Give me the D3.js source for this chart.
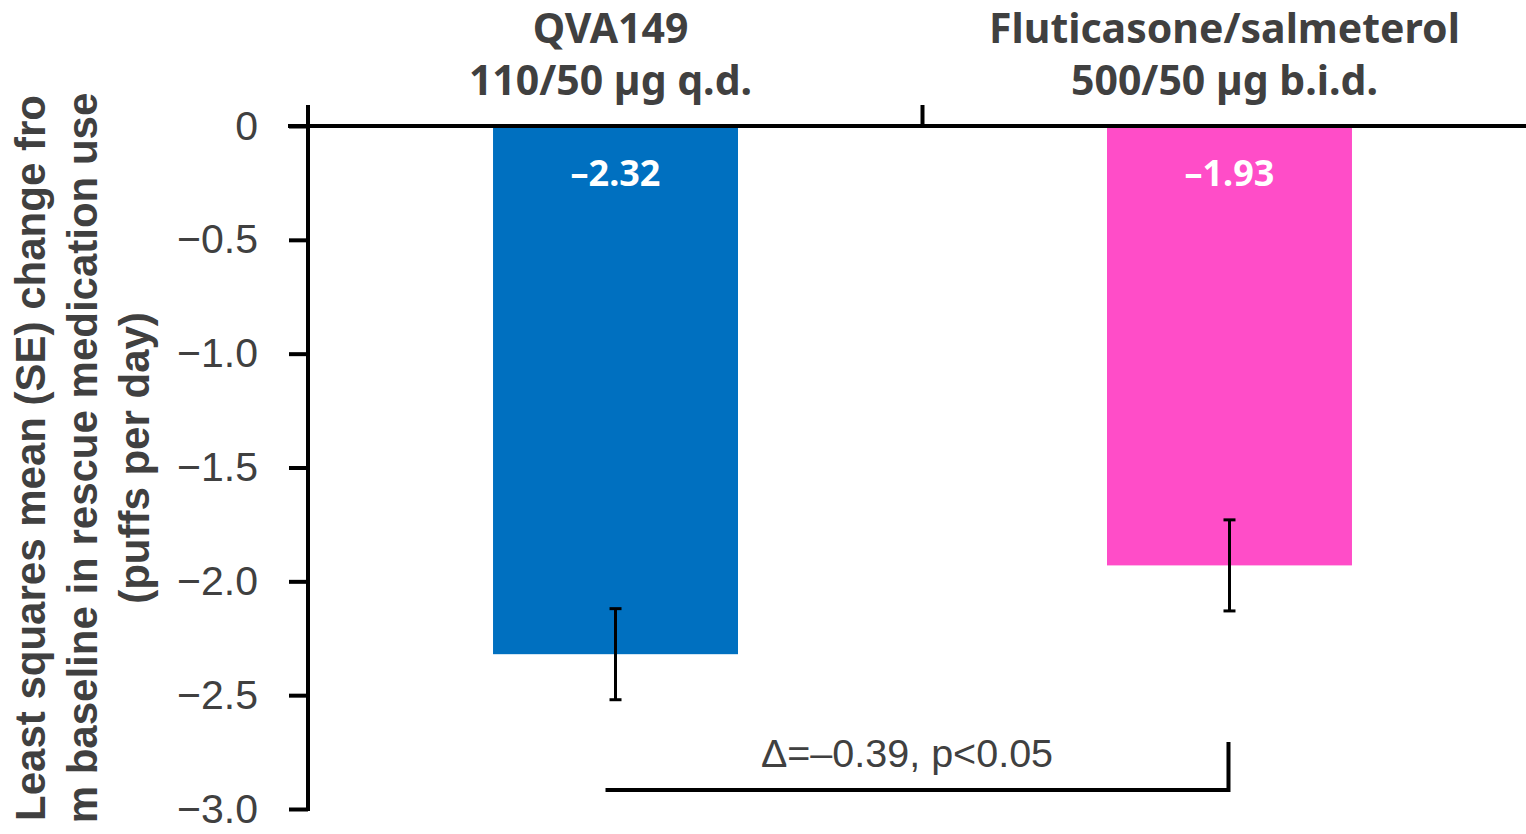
<!DOCTYPE html>
<html>
<head>
<meta charset="utf-8">
<script src="https://cdn.jsdelivr.net/npm/d3@7"></script>
<style>
  html, body { margin: 0; padding: 0; background: #fff; }
  svg { display: block; }
</style>
</head>
<body>
<svg id="chart" width="1526" height="834"></svg>
<script>
// Treatment groups and their least squares mean change in rescue medication use
const categories = ["QVA149", "Fluticasone/salmeterol"];
const doseLabels = ["110/50 µg q.d.", "500/50 µg b.i.d."];
const values = [-2.32, -1.93];
const standardErrors = [0.20, 0.20];
const barColors = ["#0070C0", "#FF4DC8"];
const yTicks = [0, -0.5, -1.0, -1.5, -2.0, -2.5, -3.0];
const yTickLabels = ["0", "\u22120.5", "\u22121.0", "\u22121.5", "\u22122.0", "\u22122.5", "\u22123.0"];
const valueLabels = ["\u20132.32", "\u20131.93"];
const comparisonText = "\u0394=\u20130.39, p<0.05";
const yTitleLines = [
  "Least squares mean (SE) change fro",
  "m baseline in rescue medication use",
  "(puffs per day)"
];

const svg = d3.select("#chart");
const textColor = "#404040";

const plotLeft = 308;
const y = d3.scaleLinear().domain([0, -3]).range([126, 809]);
const x = d3.scaleBand().domain(categories).range([313.5, 1531.5])
  .paddingInner(0.601).paddingOuter(0.2924);
const cx = c => x(c) + x.bandwidth() / 2;

// Bars
svg.append("g").selectAll("rect")
  .data(categories)
  .join("rect")
  .attr("x", d => x(d))
  .attr("y", y(0))
  .attr("width", x.bandwidth())
  .attr("height", (d, i) => y(values[i]) - y(0))
  .attr("fill", (d, i) => barColors[i]);

// Value labels inside the bars
svg.append("g").selectAll("text")
  .data(categories)
  .join("text")
  .attr("x", d => cx(d))
  .attr("y", 186)
  .attr("text-anchor", "middle")
  .attr("fill", "#fff")
  .attr("font-family", "'Noto Sans', sans-serif")
  .attr("font-weight", "bold")
  .attr("font-size", 36)
  .text((d, i) => valueLabels[i]);

// Error bars (± SE)
const eb = svg.append("g").attr("stroke", "#000").attr("stroke-width", 3);
categories.forEach((c, i) => {
  const top = y(values[i] + standardErrors[i]);
  const bot = y(values[i] - standardErrors[i]);
  eb.append("line").attr("x1", cx(c)).attr("x2", cx(c)).attr("y1", top).attr("y2", bot);
  eb.append("line").attr("x1", cx(c) - 6).attr("x2", cx(c) + 6).attr("y1", top).attr("y2", top);
  eb.append("line").attr("x1", cx(c) - 6).attr("x2", cx(c) + 6).attr("y1", bot).attr("y2", bot);
});

// Y axis with ticks pointing left
const yAxis = d3.axisLeft(y).tickValues(yTicks).tickSize(19)
  .tickFormat((d, i) => yTickLabels[i]).tickPadding(31);
const yg = svg.append("g").attr("transform", `translate(${plotLeft},0)`).call(yAxis);
yg.select(".domain").remove();
yg.selectAll(".tick line").attr("stroke", "#000").attr("stroke-width", 4);
yg.selectAll(".tick text")
  .attr("fill", textColor)
  .attr("font-family", "'Liberation Sans Narrow', 'Liberation Sans', sans-serif")
  .attr("font-size", 41);
svg.append("line")
  .attr("x1", plotLeft).attr("x2", plotLeft)
  .attr("y1", 105).attr("y2", y(-3) + 2)
  .attr("stroke", "#000").attr("stroke-width", 4);

// Horizontal zero line with a divider tick between groups
svg.append("line")
  .attr("x1", 288).attr("x2", 1526)
  .attr("y1", y(0)).attr("y2", y(0))
  .attr("stroke", "#000").attr("stroke-width", 4);
const midX = (x(categories[0]) + x.bandwidth() + x(categories[1])) / 2;
svg.append("line")
  .attr("x1", midX).attr("x2", midX)
  .attr("y1", 105).attr("y2", y(0))
  .attr("stroke", "#000").attr("stroke-width", 4);

// Group labels above the plot
const lbl = svg.append("g")
  .attr("fill", textColor)
  .attr("font-family", "'Noto Sans', sans-serif")
  .attr("font-weight", "bold")
  .attr("font-size", 41)
  .attr("text-anchor", "middle");
categories.forEach((c, i) => {
  lbl.append("text").attr("x", cx(c) - 5).attr("y", 43).text(c);
  lbl.append("text").attr("x", cx(c) - 5).attr("y", 95).text(doseLabels[i]);
});

// Comparison bracket
const xA = cx(categories[0]) - 10;
const xB = cx(categories[1]) - 1;
svg.append("path")
  .attr("d", `M${xA},790 H${xB} V742`)
  .attr("fill", "none")
  .attr("stroke", "#000")
  .attr("stroke-width", 4);
svg.append("text")
  .attr("x", 907)
  .attr("y", 767)
  .attr("text-anchor", "middle")
  .attr("fill", textColor)
  .attr("font-family", "'Liberation Sans Narrow', 'Liberation Sans', sans-serif")
  .attr("font-size", 39.5)
  .text(comparisonText);

// Rotated y-axis title
const title = svg.append("text")
  .attr("transform", "translate(0,458) rotate(-90)")
  .attr("text-anchor", "middle")
  .attr("fill", textColor)
  .attr("font-family", "'Liberation Sans', Arial, sans-serif")
  .attr("font-weight", "bold")
  .attr("font-size", 42);
yTitleLines.forEach((t, i) => {
  title.append("tspan").attr("x", 0).attr("y", 45 + i * 52).text(t);
});
</script>
</body>
</html>
